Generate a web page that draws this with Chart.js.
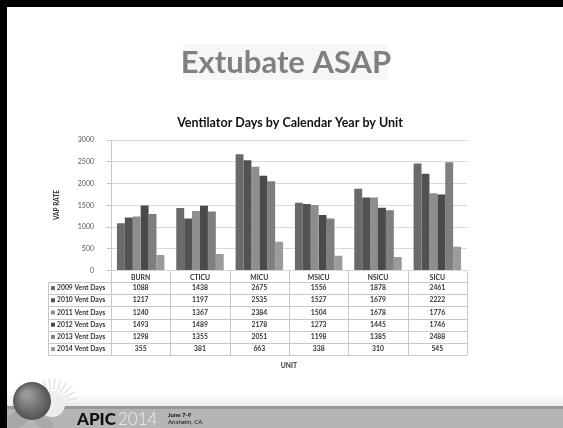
<!DOCTYPE html>
<html>
<head>
<meta charset="utf-8">
<script src="https://cdn.jsdelivr.net/npm/chart.js@4.4.1/dist/chart.umd.min.js"></script>
<style>
  html, body { margin: 0; padding: 0; background: #fff; }
  #wrap { width: 563px; height: 428px; }
</style>
</head>
<body>
<div id="wrap"><canvas id="ventChart" width="563" height="428"></canvas></div>
<script>
// Data
const units = ['BURN', 'CTICU', 'MICU', 'MSICU', 'NSICU', 'SICU'];
const seriesNames = ['2009 Vent Days', '2010 Vent Days', '2011 Vent Days', '2012 Vent Days', '2013 Vent Days', '2014 Vent Days'];
const days2009 = [1088, 1438, 2675, 1556, 1878, 2461];
const days2010 = [1217, 1197, 2535, 1527, 1679, 2222];
const days2011 = [1240, 1367, 2384, 1504, 1678, 1776];
const days2012 = [1493, 1489, 2178, 1273, 1445, 1746];
const days2013 = [1298, 1355, 2051, 1198, 1385, 2488];
const days2014 = [355, 381, 663, 338, 310, 545];
const yTicks = [0, 500, 1000, 1500, 2000, 2500, 3000];

const seriesValues = [days2009, days2010, days2011, days2012, days2013, days2014];
const seriesColors = ['#6a6a6a', '#525252', '#8e8e8e', '#4a4a4a', '#7f7f7f', '#9b9b9b'];

const FONT = "Lato, 'Open Sans', sans-serif";
const lineColor = '#c8c8c8';

// slide decoration, titles, data table and footer
const slidePlugin = {
    id: 'slide',
    beforeDraw(chart) {
        const ctx = chart.ctx;
        ctx.save();
        ctx.fillStyle = '#ffffff';
        ctx.fillRect(0, 0, chart.width, chart.height);

        // faint box behind the slide title
        ctx.fillStyle = '#f6f6f6';
        ctx.fillRect(183, 44, 205, 36);

        ctx.fillStyle = '#808080';
        ctx.font = "bold 31px " + FONT;
        ctx.textAlign = 'center';
        ctx.textBaseline = 'middle';
        ctx.fillText('Extubate ASAP', 286, 63);

        ctx.fillStyle = '#111';
        ctx.font = "bold 12.5px " + FONT;
        ctx.fillText('Ventilator Days by Calendar Year by Unit', 290, 123);

        // y axis title
        ctx.save();
        ctx.translate(57, 205);
        ctx.rotate(-Math.PI / 2);
        ctx.font = "bold 6.5px " + FONT;
        ctx.fillStyle = '#333';
        ctx.fillText('VAP RATE', 0, 0);
        ctx.restore();
        ctx.restore();
    },
    afterDraw(chart) {
        const ctx = chart.ctx;
        const xs = chart.scales.x;
        const area = chart.chartArea;
        const half = (xs.getPixelForValue(1) - xs.getPixelForValue(0)) / 2;
        const top = area.bottom;
        const headBottom = 282;
        const rowH = 12.2;
        const tableBottom = headBottom + rowH * seriesNames.length;
        const legendLeft = 48;

        ctx.save();
        ctx.strokeStyle = lineColor;
        ctx.lineWidth = 1;

        // vertical lines
        ctx.beginPath();
        for (let i = 0; i <= units.length; i++) {
            const x = Math.round(xs.getPixelForValue(0) - half + i * half * 2) + 0.5;
            ctx.moveTo(x, top);
            ctx.lineTo(x, tableBottom);
        }
        ctx.moveTo(legendLeft + 0.5, headBottom);
        ctx.lineTo(legendLeft + 0.5, tableBottom);
        // horizontal lines
        for (let r = 0; r <= seriesNames.length; r++) {
            const y = Math.round(headBottom + r * rowH) + 0.5;
            ctx.moveTo(legendLeft, y);
            ctx.lineTo(area.right, y);
        }
        ctx.stroke();

        // rows
        ctx.textBaseline = 'middle';
        ctx.font = "bold 6.8px " + FONT;
        seriesNames.forEach((name, r) => {
            const cy = headBottom + r * rowH + rowH / 2;
            ctx.fillStyle = seriesColors[r];
            ctx.fillRect(51, cy - 2, 4, 4);
            ctx.fillStyle = '#333';
            ctx.textAlign = 'left';
            ctx.fillText(name, 57, cy);
            ctx.textAlign = 'center';
            seriesValues[r].forEach((v, i) => {
                ctx.fillText(String(v), xs.getPixelForValue(i), cy);
            });
        });

        ctx.fillStyle = '#333';
        ctx.textAlign = 'center';
        ctx.fillText('UNIT', (area.left + area.right) / 2, 366);

        // footer
        const g = ctx.createLinearGradient(0, 394, 0, 406);
        g.addColorStop(0, 'rgba(235,235,235,0)');
        g.addColorStop(1, '#ececec');
        ctx.fillStyle = g;
        ctx.fillRect(0, 394, chart.width, 12);
        ctx.fillStyle = '#9a9a9a';
        ctx.fillRect(0, 406, chart.width, 3);
        ctx.fillStyle = '#b5b5b5';
        ctx.fillRect(0, 409, chart.width, chart.height - 409);

        // sun and fruit
        ctx.strokeStyle = '#e4e4e4';
        ctx.lineWidth = 1.5;
        ctx.beginPath();
        for (let k = 0; k < 14; k++) {
            const a = -Math.PI + k * Math.PI / 13;
            ctx.moveTo(52 + Math.cos(a) * 14, 404 + Math.sin(a) * 14);
            ctx.lineTo(52 + Math.cos(a) * 26, 404 + Math.sin(a) * 26);
        }
        ctx.stroke();
        ctx.fillStyle = '#ededed';
        ctx.beginPath();
        ctx.arc(52, 404, 13, 0, Math.PI * 2);
        ctx.fill();
        ctx.fillStyle = '#a8a8a8';
        ctx.beginPath();
        ctx.ellipse(18, 419, 13, 8, -0.6, 0, Math.PI * 2);
        ctx.fill();
        ctx.beginPath();
        ctx.ellipse(44, 423, 10, 5, 0.3, 0, Math.PI * 2);
        ctx.fill();
        const rg = ctx.createRadialGradient(26, 394, 3, 32, 401, 20);
        rg.addColorStop(0, '#9a9a9a');
        rg.addColorStop(1, '#4e4e4e');
        ctx.fillStyle = rg;
        ctx.beginPath();
        ctx.arc(32, 401, 19, 0, Math.PI * 2);
        ctx.fill();

        ctx.textAlign = 'left';
        ctx.textBaseline = 'alphabetic';
        ctx.fillStyle = '#111';
        ctx.font = "900 17px " + FONT;
        ctx.fillText('APIC', 77, 425);
        ctx.fillStyle = '#ececec';
        ctx.font = "300 17px " + FONT;
        ctx.fillText('2014', 118, 425);
        ctx.fillStyle = '#111';
        ctx.font = "bold 6px " + FONT;
        ctx.fillText('June 7-9', 168, 417);
        ctx.font = "6px " + FONT;
        ctx.fillText('Anaheim, CA', 168, 424);

        // slide border
        ctx.fillStyle = '#000';
        ctx.fillRect(0, 0, chart.width, 7);
        ctx.fillRect(0, 0, 7, chart.height);
        ctx.restore();
    }
};

const ctx = document.getElementById('ventChart').getContext('2d');

new Chart(ctx, {
    type: 'bar',
    data: {
        labels: units,
        datasets: seriesNames.map((name, i) => ({
            label: name,
            data: seriesValues[i],
            backgroundColor: seriesColors[i],
            borderWidth: 0,
            categoryPercentage: 0.8,
            barPercentage: 1.0
        }))
    },
    options: {
        responsive: false,
        animation: false,
        layout: {
            padding: { left: 66, right: 96, top: 140, bottom: 144.5 }
        },
        plugins: {
            legend: { display: false },
            title: { display: false },
            tooltip: { enabled: false }
        },
        scales: {
            x: {
                grid: { display: false, drawTicks: false },
                border: { display: false },
                ticks: {
                    color: '#333',
                    padding: 3,
                    maxRotation: 0,
                    font: { family: FONT, size: 6.8, weight: 'bold' }
                },
                afterFit(scale) { scale.height = 13; }
            },
            y: {
                min: 0,
                max: 3000,
                afterBuildTicks(scale) { scale.ticks = yTicks.map(v => ({ value: v })); },
                grid: { color: '#d9d9d9', tickColor: '#bfbfbf', tickLength: 4 },
                border: { display: true, color: '#c8c8c8' },
                ticks: {
                    color: '#555',
                    padding: 13,
                    font: { family: FONT, size: 7 },
                    callback: v => String(v)
                },
                afterFit(scale) { scale.width = 45; }
            }
        }
    },
    plugins: [slidePlugin]
});
</script>
</body>
</html>
